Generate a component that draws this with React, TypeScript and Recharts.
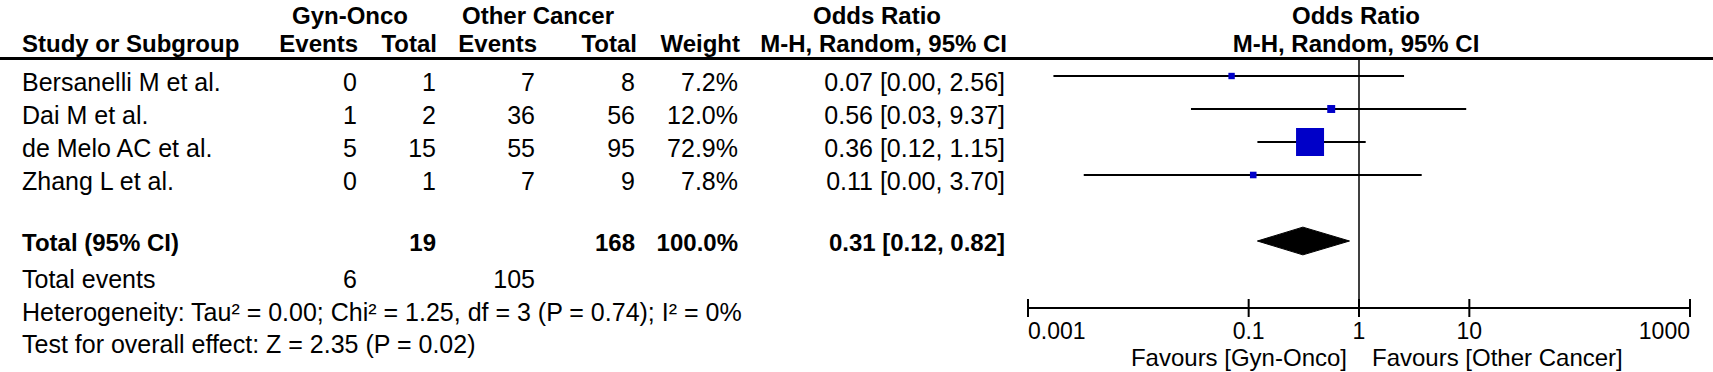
import React from 'react';
import {
  ComposedChart,
  XAxis,
  YAxis,
  Scatter,
  Area,
  ReferenceLine,
} from 'recharts';

// study table
const studies = ['Bersanelli M et al.', 'Dai M et al.', 'de Melo AC et al.', 'Zhang L et al.'];
const gynEvents = [0, 1, 5, 0];
const gynTotal = [1, 2, 15, 1];
const otherEvents = [7, 36, 55, 7];
const otherTotal = [8, 56, 95, 9];
const weights = [7.2, 12.0, 72.9, 7.8];
const orEst = [0.07, 0.56, 0.36, 0.11];
const orLow = [0.0017, 0.03, 0.12, 0.0032];
const orHigh = [2.56, 9.37, 1.15, 3.7];

// pooled estimate
const pooledEst = 0.31;
const pooledLow = 0.12;
const pooledHigh = 0.82;
const pooledWeight = '100.0%';
const heterogeneityText = 'Heterogeneity: Tau² = 0.00; Chi² = 1.25, df = 3 (P = 0.74); I² = 0%';
const overallText = 'Test for overall effect: Z = 2.35 (P = 0.02)';

const xTicks = [0.001, 0.1, 1, 10, 1000];
const favoursLeft = 'Favours [Gyn-Onco]';
const favoursRight = 'Favours [Other Cancer]';

const W = 1713;
const H = 372;
const FONT = '"Liberation Sans", Arial, sans-serif';
const BLUE = '#0000c8';
const POOLED_ROW = 5;
const DIAMOND_HALF = 0.42;

const fmt = (v: number) => v.toFixed(2);
const ciText = (e: number, l: number, h: number) => `${fmt(e)} [${fmt(l)}, ${fmt(h)}]`;
const sum = (a: number[]) => a.reduce((s, v) => s + v, 0);

const markerData = studies.map((name, i) => ({ x: orEst[i], y: i, w: weights[i], name }));
const diamondData = [
  { x: pooledLow, band: [POOLED_ROW, POOLED_ROW] },
  { x: pooledEst, band: [POOLED_ROW - DIAMOND_HALF, POOLED_ROW + DIAMOND_HALF] },
  { x: pooledHigh, band: [POOLED_ROW, POOLED_ROW] },
];

type TProps = { x: number; y: number; children: React.ReactNode; align?: 'left' | 'right' | 'center'; bold?: boolean; size?: number };

function T({ x, y, children, align = 'left', bold = false, size }: TProps) {
  const fs = size ?? (bold ? 24 : 25);
  const style: React.CSSProperties = {
    position: 'absolute',
    top: y - fs * 0.56,
    fontFamily: FONT,
    fontSize: fs,
    lineHeight: 1.15,
    fontWeight: bold ? 700 : 400,
    color: '#000',
    whiteSpace: 'nowrap',
  };
  if (align === 'left') style.left = x;
  else if (align === 'right') style.right = W - x;
  else {
    style.left = x;
    style.transform = 'translateX(-50%)';
  }
  return <div style={style}>{children}</div>;
}

const Marker = (props: any) => {
  const { cx, cy, payload } = props;
  const s = 4 + (24 * payload.w) / 72.9;
  return <rect x={cx - s / 2} y={cy - s / 2} width={s} height={s} fill={BLUE} />;
};

const AxisTick = (props: any) => {
  const { x, y, payload, index } = props;
  const last = xTicks.length - 1;
  const anchor = index === 0 ? 'start' : index === last ? 'end' : 'middle';
  return (
    <g>
      <line x1={x} x2={x} y1={y - 9} y2={y + 9} stroke="#000" strokeWidth={2} />
      <text x={x} y={y + 31} textAnchor={anchor} fontSize={23} fontFamily={FONT} fill="#000">
        {String(payload.value)}
      </text>
    </g>
  );
};

const rowY = (i: number) => 82 + 33 * i;

export default function App() {
  return (
    <div style={{ position: 'relative', width: W, height: H, background: '#fff', overflow: 'hidden' }}>
      <style>{'body{margin:0}'}</style>
      <div style={{ position: 'absolute', left: 0, top: 0 }}>
        <ComposedChart width={W} height={H} data={diamondData} margin={{ top: 0, right: 23, bottom: 24, left: 1028 }}>
          <XAxis
            dataKey="x"
            type="number"
            scale="log"
            domain={[0.001, 1000]}
            ticks={xTicks}
            allowDataOverflow
            height={40}
            tickSize={0}
            tickMargin={0}
            tickLine={false}
            axisLine={{ stroke: '#000', strokeWidth: 2 }}
            tick={<AxisTick />}
            interval={0}
          />
          <YAxis dataKey="y" type="number" domain={[-76 / 33, -76 / 33 + 308 / 33]} reversed hide allowDataOverflow />
          <ReferenceLine
            segment={[{ x: 1, y: -0.52 }, { x: 1, y: -76 / 33 + 308 / 33 }]}
            stroke="#000"
            strokeWidth={1.5}
          />
          {studies.map((s, i) => (
            <ReferenceLine
              key={s}
              segment={[{ x: orLow[i], y: i }, { x: orHigh[i], y: i }]}
              stroke="#000"
              strokeWidth={2}
            />
          ))}
          <Area
            dataKey="band"
            type="linear"
            stroke="#000"
            strokeWidth={1}
            fill="#000"
            fillOpacity={1}
            dot={false}
            activeDot={false}
            isAnimationActive={false}
          />
          <Scatter data={markerData} shape={<Marker />} isAnimationActive={false} />
        </ComposedChart>
      </div>

      {/* header */}
      <T x={350} y={15} align="center" bold>Gyn-Onco</T>
      <T x={538} y={15} align="center" bold>Other Cancer</T>
      <T x={877} y={15} align="center" bold>Odds Ratio</T>
      <T x={1356} y={15} align="center" bold>Odds Ratio</T>
      <T x={22} y={43} bold>Study or Subgroup</T>
      <T x={358} y={43} align="right" bold>Events</T>
      <T x={437} y={43} align="right" bold>Total</T>
      <T x={537} y={43} align="right" bold>Events</T>
      <T x={637} y={43} align="right" bold>Total</T>
      <T x={740} y={43} align="right" bold>Weight</T>
      <T x={1007} y={43} align="right" bold>M-H, Random, 95% CI</T>
      <T x={1356} y={43} align="center" bold>M-H, Random, 95% CI</T>
      <div style={{ position: 'absolute', left: 0, top: 57, width: W, height: 3, background: '#000' }} />

      {studies.map((s, i) => (
        <React.Fragment key={s}>
          <T x={22} y={rowY(i)}>{s}</T>
          <T x={357} y={rowY(i)} align="right">{gynEvents[i]}</T>
          <T x={436} y={rowY(i)} align="right">{gynTotal[i]}</T>
          <T x={535} y={rowY(i)} align="right">{otherEvents[i]}</T>
          <T x={635} y={rowY(i)} align="right">{otherTotal[i]}</T>
          <T x={738} y={rowY(i)} align="right">{weights[i].toFixed(1)}%</T>
          <T x={1005} y={rowY(i)} align="right">{ciText(orEst[i], orLow[i], orHigh[i])}</T>
        </React.Fragment>
      ))}

      {/* totals */}
      <T x={22} y={242} bold>Total (95% CI)</T>
      <T x={436} y={242} align="right" bold>{sum(gynTotal)}</T>
      <T x={635} y={242} align="right" bold>{sum(otherTotal)}</T>
      <T x={738} y={242} align="right" bold>{pooledWeight}</T>
      <T x={1005} y={242} align="right" bold>{ciText(pooledEst, pooledLow, pooledHigh)}</T>
      <T x={22} y={279}>Total events</T>
      <T x={357} y={279} align="right">{sum(gynEvents)}</T>
      <T x={535} y={279} align="right">{sum(otherEvents)}</T>
      <T x={22} y={312}>{heterogeneityText}</T>
      <T x={22} y={344}>{overallText}</T>

      {/* favours */}
      <T x={1347} y={357} align="right" size={24}>{favoursLeft}</T>
      <T x={1372} y={357} size={24}>{favoursRight}</T>
    </div>
  );
}
